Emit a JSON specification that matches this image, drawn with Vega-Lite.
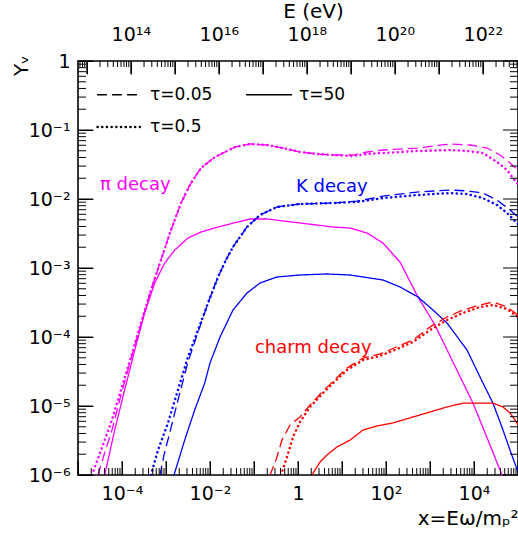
{
"$schema": "https://vega.github.io/schema/vega-lite/v6.json",
"width": 440, "height": 414,
"autosize": {"type": "none"},
"padding": {"left": 78, "top": 61, "right": 0, "bottom": 61},
"background": "white",
"config": {
  "font": "DejaVu Sans",
  "view": {"stroke": "black", "strokeWidth": 1.6},
  "axis": {"domain": false, "grid": false, "ticks": true, "tickColor": "black", "tickOpacity": 1, "tickWidth": 1, "zindex": 1, "labelColor": "black", "labelFontSize": 19, "labelOverlap": false, "labelFlush": false, "labelBound": false, "titleColor": "black", "titleFontWeight": "normal", "titleFontSize": 20}
},
"layer": [
 {
  "data": {"values": [
{"decay":"π decay","tau":"τ=0.5","x":2.08e-5,"y":1e-6},{"decay":"π decay","tau":"τ=0.5","x":3.33e-5,"y":2.30e-6},{"decay":"π decay","tau":"τ=0.5","x":5.62e-5,"y":5.68e-6},{"decay":"π decay","tau":"τ=0.5","x":9.48e-5,"y":1.71e-5},{"decay":"π decay","tau":"τ=0.5","x":1.60e-4,"y":5.13e-5},{"decay":"π decay","tau":"τ=0.5","x":2.70e-4,"y":1.60e-4},{"decay":"π decay","tau":"τ=0.5","x":4.56e-4,"y":4.80e-4},{"decay":"π decay","tau":"τ=0.5","x":7.69e-4,"y":1.31e-3},{"decay":"π decay","tau":"τ=0.5","x":1.30e-3,"y":3.56e-3},{"decay":"π decay","tau":"τ=0.5","x":2.19e-3,"y":8.75e-3},{"decay":"π decay","tau":"τ=0.5","x":3.70e-3,"y":1.71e-2},{"decay":"π decay","tau":"τ=0.5","x":6.24e-3,"y":2.81e-2},{"decay":"π decay","tau":"τ=0.5","x":1.30e-2,"y":4.06e-2},{"decay":"π decay","tau":"τ=0.5","x":2.19e-2,"y":4.80e-2},{"decay":"π decay","tau":"τ=0.5","x":3.70e-2,"y":5.67e-2},{"decay":"π decay","tau":"τ=0.5","x":8.11e-2,"y":6.27e-2},{"decay":"π decay","tau":"τ=0.5","x":0.197,"y":6.06e-2},{"decay":"π decay","tau":"τ=0.5","x":0.456,"y":5.48e-2},{"decay":"π decay","tau":"τ=0.5","x":1.11,"y":4.80e-2},{"decay":"π decay","tau":"τ=0.5","x":2.70,"y":4.49e-2},{"decay":"π decay","tau":"τ=0.5","x":6.24,"y":4.34e-2},{"decay":"π decay","tau":"τ=0.5","x":17.8,"y":4.20e-2},{"decay":"π decay","tau":"τ=0.5","x":37.0,"y":4.49e-2},{"decay":"π decay","tau":"τ=0.5","x":85.5,"y":4.64e-2},{"decay":"π decay","tau":"τ=0.5","x":507,"y":4.96e-2},{"decay":"π decay","tau":"τ=0.5","x":2850,"y":5.13e-2},{"decay":"π decay","tau":"τ=0.5","x":6930,"y":4.96e-2},{"decay":"π decay","tau":"τ=0.5","x":1.60e4,"y":4.64e-2},{"decay":"π decay","tau":"τ=0.5","x":3.33e4,"y":3.44e-2},{"decay":"π decay","tau":"τ=0.5","x":5.62e4,"y":2.63e-2},{"decay":"π decay","tau":"τ=0.5","x":7.69e4,"y":2.02e-2},{"decay":"π decay","tau":"τ=0.5","x":1e5,"y":1.65e-2},
{"decay":"π decay","tau":"τ=0.05","x":2.85e-5,"y":1e-6},{"decay":"π decay","tau":"τ=0.05","x":3.90e-5,"y":1.95e-6},{"decay":"π decay","tau":"τ=0.05","x":5.93e-5,"y":4.49e-6},{"decay":"π decay","tau":"τ=0.05","x":9.48e-5,"y":1.44e-5},{"decay":"π decay","tau":"τ=0.05","x":1.60e-4,"y":4.80e-5},{"decay":"π decay","tau":"τ=0.05","x":2.70e-4,"y":1.54e-4},{"decay":"π decay","tau":"τ=0.05","x":4.56e-4,"y":4.80e-4},{"decay":"π decay","tau":"τ=0.05","x":7.69e-4,"y":1.31e-3},{"decay":"π decay","tau":"τ=0.05","x":1.30e-3,"y":3.56e-3},{"decay":"π decay","tau":"τ=0.05","x":2.19e-3,"y":8.75e-3},{"decay":"π decay","tau":"τ=0.05","x":3.70e-3,"y":1.71e-2},{"decay":"π decay","tau":"τ=0.05","x":6.24e-3,"y":2.81e-2},{"decay":"π decay","tau":"τ=0.05","x":1.30e-2,"y":4.06e-2},{"decay":"π decay","tau":"τ=0.05","x":2.19e-2,"y":4.80e-2},{"decay":"π decay","tau":"τ=0.05","x":3.70e-2,"y":5.67e-2},{"decay":"π decay","tau":"τ=0.05","x":8.11e-2,"y":6.27e-2},{"decay":"π decay","tau":"τ=0.05","x":0.197,"y":6.06e-2},{"decay":"π decay","tau":"τ=0.05","x":0.456,"y":5.48e-2},{"decay":"π decay","tau":"τ=0.05","x":1.11,"y":4.80e-2},{"decay":"π decay","tau":"τ=0.05","x":2.70,"y":4.49e-2},{"decay":"π decay","tau":"τ=0.05","x":6.24,"y":4.34e-2},{"decay":"π decay","tau":"τ=0.05","x":17.8,"y":4.34e-2},{"decay":"π decay","tau":"τ=0.05","x":37.0,"y":4.80e-2},{"decay":"π decay","tau":"τ=0.05","x":85.5,"y":5.13e-2},{"decay":"π decay","tau":"τ=0.05","x":507,"y":5.48e-2},{"decay":"π decay","tau":"τ=0.05","x":2850,"y":6.27e-2},{"decay":"π decay","tau":"τ=0.05","x":8110,"y":6.06e-2},{"decay":"π decay","tau":"τ=0.05","x":1.97e4,"y":5.48e-2},{"decay":"π decay","tau":"τ=0.05","x":3.90e4,"y":4.34e-2},{"decay":"π decay","tau":"τ=0.05","x":6.58e4,"y":3.32e-2},{"decay":"π decay","tau":"τ=0.05","x":1e5,"y":2.63e-2},
{"decay":"π decay","tau":"τ=50","x":4.05e-5,"y":1e-6},{"decay":"π decay","tau":"τ=50","x":6.82e-5,"y":4.49e-6},{"decay":"π decay","tau":"τ=50","x":1.15e-4,"y":1.71e-5},{"decay":"π decay","tau":"τ=50","x":1.95e-4,"y":6.48e-5},{"decay":"π decay","tau":"τ=50","x":3.28e-4,"y":2.23e-4},{"decay":"π decay","tau":"τ=50","x":5.54e-4,"y":6.06e-4},{"decay":"π decay","tau":"τ=50","x":9.34e-4,"y":1.18e-3},{"decay":"π decay","tau":"τ=50","x":1.58e-3,"y":1.82e-3},{"decay":"π decay","tau":"τ=50","x":3.16e-3,"y":2.72e-3},{"decay":"π decay","tau":"τ=50","x":6.24e-3,"y":3.32e-3},{"decay":"π decay","tau":"τ=50","x":1.52e-2,"y":3.93e-3},{"decay":"π decay","tau":"τ=50","x":8.11e-2,"y":5.13e-3},{"decay":"π decay","tau":"τ=50","x":0.197,"y":5.13e-3},{"decay":"π decay","tau":"τ=50","x":1.11,"y":4.49e-3},{"decay":"π decay","tau":"τ=50","x":6.24,"y":3.93e-3},{"decay":"π decay","tau":"τ=50","x":15.2,"y":3.80e-3},{"decay":"π decay","tau":"τ=50","x":37.0,"y":3.21e-3},{"decay":"π decay","tau":"τ=50","x":85.5,"y":2.30e-3},{"decay":"π decay","tau":"τ=50","x":208,"y":1.22e-3},{"decay":"π decay","tau":"τ=50","x":533,"y":3.80e-4},{"decay":"π decay","tau":"τ=50","x":1300,"y":1.49e-4},{"decay":"π decay","tau":"τ=50","x":2850,"y":5.31e-5},{"decay":"π decay","tau":"τ=50","x":9490,"y":1.10e-5},{"decay":"π decay","tau":"τ=50","x":2.08e4,"y":3.21e-6},{"decay":"π decay","tau":"τ=50","x":4.33e4,"y":1e-6},{"decay":"π decay","tau":"τ=50","x":5.34e4,"y":7.16e-7},
{"decay":"K decay","tau":"τ=0.5","x":4.56e-4,"y":1e-6},{"decay":"K decay","tau":"τ=0.5","x":6.58e-4,"y":2.30e-6},{"decay":"K decay","tau":"τ=0.5","x":1.11e-3,"y":5.68e-6},{"decay":"K decay","tau":"τ=0.5","x":1.87e-3,"y":1.71e-5},{"decay":"K decay","tau":"τ=0.5","x":3.16e-3,"y":5.13e-5},{"decay":"K decay","tau":"τ=0.5","x":5.34e-3,"y":1.26e-4},{"decay":"K decay","tau":"τ=0.5","x":9.01e-3,"y":3.11e-4},{"decay":"K decay","tau":"τ=0.5","x":1.52e-2,"y":7.41e-4},{"decay":"K decay","tau":"τ=0.5","x":2.31e-2,"y":1.31e-3},{"decay":"K decay","tau":"τ=0.5","x":3.33e-2,"y":2.02e-3},{"decay":"K decay","tau":"τ=0.5","x":6.93e-2,"y":3.93e-3},{"decay":"K decay","tau":"τ=0.5","x":0.137,"y":5.86e-3},{"decay":"K decay","tau":"τ=0.5","x":0.333,"y":7.66e-3},{"decay":"K decay","tau":"τ=0.5","x":1.11,"y":8.47e-3},{"decay":"K decay","tau":"τ=0.5","x":6.24,"y":8.75e-3},{"decay":"K decay","tau":"τ=0.5","x":21.9,"y":9.05e-3},{"decay":"K decay","tau":"τ=0.5","x":85.5,"y":1.03e-2},{"decay":"K decay","tau":"τ=0.5","x":507,"y":1.14e-2},{"decay":"K decay","tau":"τ=0.5","x":2850,"y":1.22e-2},{"decay":"K decay","tau":"τ=0.5","x":6930,"y":1.18e-2},{"decay":"K decay","tau":"τ=0.5","x":1.60e4,"y":1.03e-2},{"decay":"K decay","tau":"τ=0.5","x":3.33e4,"y":8.19e-3},{"decay":"K decay","tau":"τ=0.5","x":5.62e4,"y":6.27e-3},{"decay":"K decay","tau":"τ=0.5","x":1e5,"y":4.34e-3},
{"decay":"K decay","tau":"τ=0.05","x":7.31e-4,"y":1e-6},{"decay":"K decay","tau":"τ=0.05","x":9.01e-4,"y":1.95e-6},{"decay":"K decay","tau":"τ=0.05","x":1.23e-3,"y":4.20e-6},{"decay":"K decay","tau":"τ=0.05","x":1.87e-3,"y":1.22e-5},{"decay":"K decay","tau":"τ=0.05","x":3.16e-3,"y":4.34e-5},{"decay":"K decay","tau":"τ=0.05","x":5.34e-3,"y":1.18e-4},{"decay":"K decay","tau":"τ=0.05","x":9.01e-3,"y":3.11e-4},{"decay":"K decay","tau":"τ=0.05","x":1.52e-2,"y":7.41e-4},{"decay":"K decay","tau":"τ=0.05","x":2.31e-2,"y":1.31e-3},{"decay":"K decay","tau":"τ=0.05","x":3.33e-2,"y":2.02e-3},{"decay":"K decay","tau":"τ=0.05","x":6.93e-2,"y":3.93e-3},{"decay":"K decay","tau":"τ=0.05","x":0.137,"y":5.86e-3},{"decay":"K decay","tau":"τ=0.05","x":0.333,"y":7.66e-3},{"decay":"K decay","tau":"τ=0.05","x":1.11,"y":8.47e-3},{"decay":"K decay","tau":"τ=0.05","x":6.24,"y":8.75e-3},{"decay":"K decay","tau":"τ=0.05","x":21.9,"y":9.31e-3},{"decay":"K decay","tau":"τ=0.05","x":85.5,"y":1.10e-2},{"decay":"K decay","tau":"τ=0.05","x":507,"y":1.26e-2},{"decay":"K decay","tau":"τ=0.05","x":2850,"y":1.35e-2},{"decay":"K decay","tau":"τ=0.05","x":6930,"y":1.31e-2},{"decay":"K decay","tau":"τ=0.05","x":1.60e4,"y":1.22e-2},{"decay":"K decay","tau":"τ=0.05","x":3.33e4,"y":9.68e-3},{"decay":"K decay","tau":"τ=0.05","x":6.58e4,"y":6.93e-3},{"decay":"K decay","tau":"τ=0.05","x":1e5,"y":5.48e-3},
{"decay":"K decay","tau":"τ=50","x":1.52e-3,"y":1e-6},{"decay":"K decay","tau":"τ=50","x":2.66e-3,"y":3.21e-6},{"decay":"K decay","tau":"τ=50","x":4.49e-3,"y":8.75e-6},{"decay":"K decay","tau":"τ=50","x":7.58e-3,"y":2.15e-5},{"decay":"K decay","tau":"τ=50","x":1e-2,"y":4.20e-5},{"decay":"K decay","tau":"τ=50","x":1.69e-2,"y":1.0e-4},{"decay":"K decay","tau":"τ=50","x":3.33e-2,"y":2.46e-4},{"decay":"K decay","tau":"τ=50","x":6.93e-2,"y":4.34e-4},{"decay":"K decay","tau":"τ=50","x":0.137,"y":6.06e-4},{"decay":"K decay","tau":"τ=50","x":0.333,"y":7.41e-4},{"decay":"K decay","tau":"τ=50","x":1.11,"y":7.92e-4},{"decay":"K decay","tau":"τ=50","x":4.56,"y":8.19e-4},{"decay":"K decay","tau":"τ=50","x":15.2,"y":7.92e-4},{"decay":"K decay","tau":"τ=50","x":85.5,"y":6.70e-4},{"decay":"K decay","tau":"τ=50","x":208,"y":5.31e-4},{"decay":"K decay","tau":"τ=50","x":533,"y":3.80e-4},{"decay":"K decay","tau":"τ=50","x":1170,"y":2.46e-4},{"decay":"K decay","tau":"τ=50","x":2430,"y":1.60e-4},{"decay":"K decay","tau":"τ=50","x":6930,"y":6.48e-5},{"decay":"K decay","tau":"τ=50","x":1.60e4,"y":2.15e-5},{"decay":"K decay","tau":"τ=50","x":2.70e4,"y":1.10e-5},{"decay":"K decay","tau":"τ=50","x":4.56e4,"y":4.49e-6},{"decay":"K decay","tau":"τ=50","x":6.58e4,"y":2.30e-6},{"decay":"K decay","tau":"τ=50","x":1e5,"y":1.10e-6},
{"decay":"charm decay","tau":"τ=0.5","x":0.411,"y":1e-6},{"decay":"charm decay","tau":"τ=0.5","x":0.562,"y":1.82e-6},{"decay":"charm decay","tau":"τ=0.5","x":0.770,"y":3.56e-6},{"decay":"charm decay","tau":"τ=0.5","x":1.11,"y":5.86e-6},{"decay":"charm decay","tau":"τ=0.5","x":1.87,"y":9.68e-6},{"decay":"charm decay","tau":"τ=0.5","x":3.70,"y":1.54e-5},{"decay":"charm decay","tau":"τ=0.5","x":6.24,"y":2.15e-5},{"decay":"charm decay","tau":"τ=0.5","x":13.0,"y":3.32e-5},{"decay":"charm decay","tau":"τ=0.5","x":30.0,"y":4.64e-5},{"decay":"charm decay","tau":"τ=0.5","x":73.1,"y":5.31e-5},{"decay":"charm decay","tau":"τ=0.5","x":178,"y":6.70e-5},{"decay":"charm decay","tau":"τ=0.5","x":411,"y":8.47e-5},{"decay":"charm decay","tau":"τ=0.5","x":1000,"y":1.26e-4},{"decay":"charm decay","tau":"τ=0.5","x":2430,"y":1.76e-4},{"decay":"charm decay","tau":"τ=0.5","x":5620,"y":2.23e-4},{"decay":"charm decay","tau":"τ=0.5","x":1.37e4,"y":2.72e-4},{"decay":"charm decay","tau":"τ=0.5","x":2.70e4,"y":2.91e-4},{"decay":"charm decay","tau":"τ=0.5","x":5.62e4,"y":2.55e-4},{"decay":"charm decay","tau":"τ=0.5","x":1e5,"y":1.95e-4},
{"decay":"charm decay","tau":"τ=0.05","x":0.231,"y":1e-6},{"decay":"charm decay","tau":"τ=0.05","x":0.316,"y":1.65e-6},{"decay":"charm decay","tau":"τ=0.05","x":0.433,"y":3.21e-6},{"decay":"charm decay","tau":"τ=0.05","x":0.658,"y":5.31e-6},{"decay":"charm decay","tau":"τ=0.05","x":1.11,"y":6.93e-6},{"decay":"charm decay","tau":"τ=0.05","x":1.87,"y":1.03e-5},{"decay":"charm decay","tau":"τ=0.05","x":3.70,"y":1.65e-5},{"decay":"charm decay","tau":"τ=0.05","x":13.0,"y":3.56e-5},{"decay":"charm decay","tau":"τ=0.05","x":30.0,"y":4.96e-5},{"decay":"charm decay","tau":"τ=0.05","x":73.1,"y":5.68e-5},{"decay":"charm decay","tau":"τ=0.05","x":411,"y":9.05e-5},{"decay":"charm decay","tau":"τ=0.05","x":1000,"y":1.40e-4},{"decay":"charm decay","tau":"τ=0.05","x":2430,"y":1.95e-4},{"decay":"charm decay","tau":"τ=0.05","x":5620,"y":2.46e-4},{"decay":"charm decay","tau":"τ=0.05","x":1.37e4,"y":2.91e-4},{"decay":"charm decay","tau":"τ=0.05","x":2.70e4,"y":3.21e-4},{"decay":"charm decay","tau":"τ=0.05","x":5.62e4,"y":2.72e-4},{"decay":"charm decay","tau":"τ=0.05","x":1e5,"y":2.08e-4},
{"decay":"charm decay","tau":"τ=50","x":2.08,"y":1e-6},{"decay":"charm decay","tau":"τ=50","x":3.16,"y":1.54e-6},{"decay":"charm decay","tau":"τ=50","x":4.56,"y":1.95e-6},{"decay":"charm decay","tau":"τ=50","x":7.69,"y":2.55e-6},{"decay":"charm decay","tau":"τ=50","x":15.2,"y":3.2e-6},{"decay":"charm decay","tau":"τ=50","x":30.0,"y":4.49e-6},{"decay":"charm decay","tau":"τ=50","x":62.4,"y":5.13e-6},{"decay":"charm decay","tau":"τ=50","x":144,"y":5.68e-6},{"decay":"charm decay","tau":"τ=50","x":411,"y":6.93e-6},{"decay":"charm decay","tau":"τ=50","x":1000,"y":8.19e-6},{"decay":"charm decay","tau":"τ=50","x":2430,"y":9.68e-6},{"decay":"charm decay","tau":"τ=50","x":5620,"y":1.10e-5},{"decay":"charm decay","tau":"τ=50","x":1.37e4,"y":1.10e-5},{"decay":"charm decay","tau":"τ=50","x":2.70e4,"y":1.10e-5},{"decay":"charm decay","tau":"τ=50","x":4.56e4,"y":9.68e-6},{"decay":"charm decay","tau":"τ=50","x":6.58e4,"y":7.92e-6},{"decay":"charm decay","tau":"τ=50","x":8.55e4,"y":6.27e-6},{"decay":"charm decay","tau":"τ=50","x":1e5,"y":5.31e-6}
  ]},
  "mark": {"type": "line", "clip": true, "strokeCap": "round", "strokeJoin": "round"},
  "encoding": {
    "x": {"field": "x", "type": "quantitative", "scale": {"type": "log", "domain": [1e-5, 1e5]},
      "axis": {"orient": "bottom", "offset": -14, "tickSize": 14,
        "values": [1e-5,1e-4,0.001,0.01,0.1,1,10,100,1000,10000,100000],
        "labelExpr": "['','10⁻⁴','','10⁻²','','1','','10²','','10⁴',''][round(log(datum.value)/LN10)+5]",
        "labelPadding": 9,
        "title": "x=Eω/mₚ²", "titleAlign": "right", "titleX": 440, "titleY": 63, "titleBaseline": "alphabetic"}},
    "y": {"field": "y", "type": "quantitative", "scale": {"type": "log", "domain": [1e-6, 1]},
      "axis": {"orient": "left", "offset": -15, "tickSize": 15,
        "values": [1e-6,1e-5,1e-4,0.001,0.01,0.1,1],
        "labelExpr": "['10⁻⁶','10⁻⁵','10⁻⁴','10⁻³','10⁻²','10⁻¹','1'][round(log(datum.value)/LN10)+6]",
        "labelPadding": 8,
        "title": "Yᵥ", "titleAngle": 270, "titleAlign": "right", "titleBaseline": "middle", "titleX": -72, "titleY": -6}},
    "color": {"field": "decay", "type": "nominal", "scale": {"domain": ["π decay", "K decay", "charm decay"], "range": ["#ff00ff", "#0000ff", "#ff0000"]}, "legend": null},
    "strokeDash": {"field": "tau", "type": "nominal", "scale": {"domain": ["τ=0.05", "τ=0.5", "τ=50"], "range": [[9, 6], [0.1, 4.6], [1, 0]]},
      "legend": {"title": null, "orient": "none", "direction": "vertical", "legendX": 18, "legendY": 10, "columns": 2, "symbolType": "stroke", "symbolSize": 2025, "symbolStrokeColor": "black", "symbolStrokeWidth": 1.4, "labelFontSize": 17, "labelColor": "black", "labelOffset": 6, "columnPadding": 30, "rowPadding": -16,
        "encode": {"symbols": {"update": {"strokeCap": {"value": "round"}}}}}},
    "strokeWidth": {"field": "tau", "type": "nominal", "scale": {"type": "ordinal", "domain": ["τ=0.05", "τ=0.5", "τ=50"], "range": [1.3, 2.5, 1.3]}, "legend": null}
  }
 },
 {
  "data": {"values": [
    {"label": "π decay", "decay": "π decay", "x": 3.16e-5, "y": 1.35e-2},
    {"label": "K decay", "decay": "K decay", "x": 0.90, "y": 1.26e-2},
    {"label": "charm decay", "decay": "charm decay", "x": 0.105, "y": 5.86e-5}
  ]},
  "mark": {"type": "text", "align": "left", "baseline": "alphabetic", "fontSize": 18},
  "encoding": {
    "x": {"field": "x", "type": "quantitative", "scale": {"type": "log", "domain": [1e-5, 1e5]}, "axis": null},
    "y": {"field": "y", "type": "quantitative", "scale": {"type": "log", "domain": [1e-6, 1]}, "axis": null},
    "text": {"field": "label"},
    "color": {"field": "decay", "type": "nominal"}
  }
 },
 {
  "data": {"values": [{"v":1e-5},{"v":1e-4},{"v":0.001},{"v":0.01},{"v":0.1},{"v":1},{"v":10},{"v":100},{"v":1000},{"v":10000},{"v":100000}]},
  "mark": {"type": "rule", "color": "black", "strokeWidth": 1},
  "encoding": {
    "x": {"field": "v", "type": "quantitative", "scale": {"type": "log", "domain": [1e-5, 1e5]}, "axis": null},
    "y": {"datum": 1e-6, "type": "quantitative", "scale": {"type": "log", "domain": [1e-6, 1]}, "axis": null},
    "y2": {"datum": 1.596e-6}
  }
 },
 {
  "data": {"values": [{"v":2e-5},{"v":3e-5},{"v":4e-5},{"v":5e-5},{"v":6e-5},{"v":7e-5},{"v":8e-5},{"v":9e-5},{"v":2e-4},{"v":3e-4},{"v":4e-4},{"v":5e-4},{"v":6e-4},{"v":7e-4},{"v":8e-4},{"v":9e-4},{"v":0.002},{"v":0.003},{"v":0.004},{"v":0.005},{"v":0.006},{"v":0.007},{"v":0.008},{"v":0.009},{"v":0.02},{"v":0.03},{"v":0.04},{"v":0.05},{"v":0.06},{"v":0.07},{"v":0.08},{"v":0.09},{"v":0.2},{"v":0.3},{"v":0.4},{"v":0.5},{"v":0.6},{"v":0.7},{"v":0.8},{"v":0.9},{"v":2},{"v":3},{"v":4},{"v":5},{"v":6},{"v":7},{"v":8},{"v":9},{"v":20},{"v":30},{"v":40},{"v":50},{"v":60},{"v":70},{"v":80},{"v":90},{"v":200},{"v":300},{"v":400},{"v":500},{"v":600},{"v":700},{"v":800},{"v":900},{"v":2000},{"v":3000},{"v":4000},{"v":5000},{"v":6000},{"v":7000},{"v":8000},{"v":9000},{"v":20000},{"v":30000},{"v":40000},{"v":50000},{"v":60000},{"v":70000},{"v":80000},{"v":90000}]},
  "mark": {"type": "rule", "color": "black", "strokeWidth": 1},
  "encoding": {
    "x": {"field": "v", "type": "quantitative", "scale": {"type": "log", "domain": [1e-5, 1e5]}, "axis": null},
    "y": {"datum": 1e-6, "type": "quantitative", "scale": {"type": "log", "domain": [1e-6, 1]}, "axis": null},
    "y2": {"datum": 1.263e-6}
  }
 },
 {
  "data": {"values": [{"v":1e-6},{"v":1e-5},{"v":1e-4},{"v":0.001},{"v":0.01},{"v":0.1},{"v":1}]},
  "mark": {"type": "rule", "color": "black", "strokeWidth": 1},
  "encoding": {
    "y": {"field": "v", "type": "quantitative", "scale": {"type": "log", "domain": [1e-6, 1]}, "axis": null},
    "x": {"datum": 1e-5, "type": "quantitative", "scale": {"type": "log", "domain": [1e-5, 1e5]}, "axis": null},
    "x2": {"datum": 2.19e-5}
  }
 },
 {
  "data": {"values": [{"v":1e-6},{"v":1e-5},{"v":1e-4},{"v":0.001},{"v":0.01},{"v":0.1},{"v":1}]},
  "mark": {"type": "rule", "color": "black", "strokeWidth": 1},
  "encoding": {
    "y": {"field": "v", "type": "quantitative", "scale": {"type": "log", "domain": [1e-6, 1]}, "axis": null},
    "x": {"datum": 1e5, "type": "quantitative", "scale": {"type": "log", "domain": [1e-5, 1e5]}, "axis": null},
    "x2": {"datum": 4.57e4}
  }
 },
 {
  "data": {"values": [{"v":2e-6},{"v":3e-6},{"v":4e-6},{"v":5e-6},{"v":6e-6},{"v":7e-6},{"v":8e-6},{"v":9e-6},{"v":2e-5},{"v":3e-5},{"v":4e-5},{"v":5e-5},{"v":6e-5},{"v":7e-5},{"v":8e-5},{"v":9e-5},{"v":2e-4},{"v":3e-4},{"v":4e-4},{"v":5e-4},{"v":6e-4},{"v":7e-4},{"v":8e-4},{"v":9e-4},{"v":0.002},{"v":0.003},{"v":0.004},{"v":0.005},{"v":0.006},{"v":0.007},{"v":0.008},{"v":0.009},{"v":0.02},{"v":0.03},{"v":0.04},{"v":0.05},{"v":0.06},{"v":0.07},{"v":0.08},{"v":0.09},{"v":0.2},{"v":0.3},{"v":0.4},{"v":0.5},{"v":0.6},{"v":0.7},{"v":0.8},{"v":0.9}]},
  "mark": {"type": "rule", "color": "black", "strokeWidth": 1},
  "encoding": {
    "y": {"field": "v", "type": "quantitative", "scale": {"type": "log", "domain": [1e-6, 1]}, "axis": null},
    "x": {"datum": 1e-5, "type": "quantitative", "scale": {"type": "log", "domain": [1e-5, 1e5]}, "axis": null},
    "x2": {"datum": 1.52e-5}
  }
 },
 {
  "data": {"values": [{"v":2e-6},{"v":3e-6},{"v":4e-6},{"v":5e-6},{"v":6e-6},{"v":7e-6},{"v":8e-6},{"v":9e-6},{"v":2e-5},{"v":3e-5},{"v":4e-5},{"v":5e-5},{"v":6e-5},{"v":7e-5},{"v":8e-5},{"v":9e-5},{"v":2e-4},{"v":3e-4},{"v":4e-4},{"v":5e-4},{"v":6e-4},{"v":7e-4},{"v":8e-4},{"v":9e-4},{"v":0.002},{"v":0.003},{"v":0.004},{"v":0.005},{"v":0.006},{"v":0.007},{"v":0.008},{"v":0.009},{"v":0.02},{"v":0.03},{"v":0.04},{"v":0.05},{"v":0.06},{"v":0.07},{"v":0.08},{"v":0.09},{"v":0.2},{"v":0.3},{"v":0.4},{"v":0.5},{"v":0.6},{"v":0.7},{"v":0.8},{"v":0.9}]},
  "mark": {"type": "rule", "color": "black", "strokeWidth": 1},
  "encoding": {
    "y": {"field": "v", "type": "quantitative", "scale": {"type": "log", "domain": [1e-6, 1]}, "axis": null},
    "x": {"datum": 1e5, "type": "quantitative", "scale": {"type": "log", "domain": [1e-5, 1e5]}, "axis": null},
    "x2": {"datum": 6.58e4}
  }
 },
 {
  "data": {"values": [{"E":1e13},{"E":1e14},{"E":1e15},{"E":1e16},{"E":1e17},{"E":1e18},{"E":1e19},{"E":1e20},{"E":1e21},{"E":1e22}]},
  "mark": {"type": "rule", "color": "black", "strokeWidth": 1},
  "encoding": {
    "x": {"field": "E", "type": "quantitative", "scale": {"type": "log", "domain": [6.3096e12, 6.3096e22]},
      "axis": {"orient": "top", "offset": -13, "tickSize": 13,
        "values": [1e13,1e14,1e15,1e16,1e17,1e18,1e19,1e20,1e21,1e22],
        "labelExpr": "['','10¹⁴','','10¹⁶','','10¹⁸','','10²⁰','','10²²'][round(log(datum.value)/LN10)-13]",
        "labelPadding": 17,
        "title": "E (eV)", "titleX": 235, "titleY": -57, "titleAlign": "center", "titleBaseline": "alphabetic"}},
    "y": {"datum": 1, "type": "quantitative", "scale": {"type": "log", "domain": [1e-6, 1]}, "axis": null},
    "y2": {"datum": 0.648}
  }
 },
 {
  "data": {"values": [{"E":7e12},{"E":8e12},{"E":9e12},{"E":2e13},{"E":3e13},{"E":4e13},{"E":5e13},{"E":6e13},{"E":7e13},{"E":8e13},{"E":9e13},{"E":2e14},{"E":3e14},{"E":4e14},{"E":5e14},{"E":6e14},{"E":7e14},{"E":8e14},{"E":9e14},{"E":2e15},{"E":3e15},{"E":4e15},{"E":5e15},{"E":6e15},{"E":7e15},{"E":8e15},{"E":9e15},{"E":2e16},{"E":3e16},{"E":4e16},{"E":5e16},{"E":6e16},{"E":7e16},{"E":8e16},{"E":9e16},{"E":2e17},{"E":3e17},{"E":4e17},{"E":5e17},{"E":6e17},{"E":7e17},{"E":8e17},{"E":9e17},{"E":2e18},{"E":3e18},{"E":4e18},{"E":5e18},{"E":6e18},{"E":7e18},{"E":8e18},{"E":9e18},{"E":2e19},{"E":3e19},{"E":4e19},{"E":5e19},{"E":6e19},{"E":7e19},{"E":8e19},{"E":9e19},{"E":2e20},{"E":3e20},{"E":4e20},{"E":5e20},{"E":6e20},{"E":7e20},{"E":8e20},{"E":9e20},{"E":2e21},{"E":3e21},{"E":4e21},{"E":5e21},{"E":6e21},{"E":7e21},{"E":8e21},{"E":9e21},{"E":2e22},{"E":3e22},{"E":4e22},{"E":5e22},{"E":6e22}]},
  "mark": {"type": "rule", "color": "black", "strokeWidth": 1},
  "encoding": {
    "x": {"field": "E", "type": "quantitative", "scale": {"type": "log", "domain": [6.3096e12, 6.3096e22]}, "axis": null},
    "y": {"datum": 1, "type": "quantitative", "scale": {"type": "log", "domain": [1e-6, 1]}, "axis": null},
    "y2": {"datum": 0.818}
  }
 }
],
"resolve": {"scale": {"x": "independent", "y": "independent"}}
}
